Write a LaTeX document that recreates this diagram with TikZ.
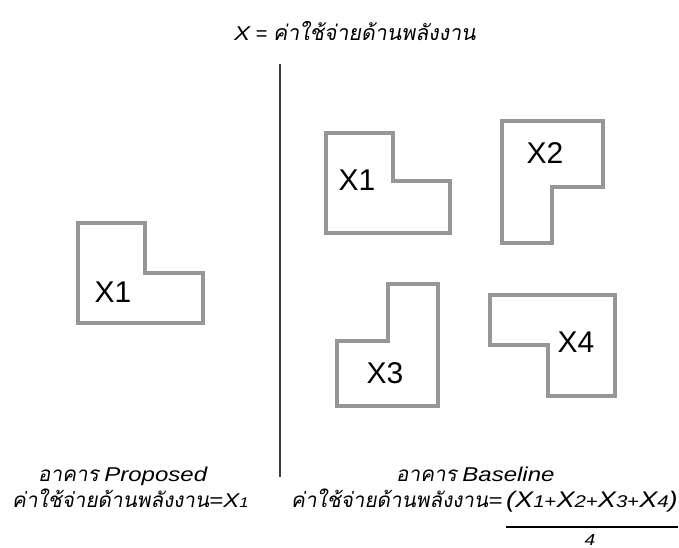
\documentclass[tikz,border=0pt]{standalone}
\usepackage{fontspec}
\setmainfont{Liberation Sans}
% wide oblique Latin for the captions, slanted Thai
\newfontfamily\capfont[FakeStretch=1.2]{Liberation Sans}
\newfontfamily\thaifont[Script=Thai,FakeSlant=0.18]{Loma}
\newcommand{\lat}[1]{{\capfont\itshape #1}}
\newcommand{\thtxt}[1]{{\thaifont\fontsize{20.7}{25}\selectfont #1}}
% variable with a small index, and a small plus sign, for the sums
\newcommand{\xs}[1]{\lat{X{\fontsize{14}{14}\selectfont #1}}}
\newcommand{\xb}[1]{\lat{X{\fontsize{17}{17}\selectfont #1}}}
\newcommand{\plb}{{\capfont\fontsize{17}{17}\selectfont +}}
\definecolor{wallgray}{RGB}{150,150,150}
\definecolor{divgray}{RGB}{60,60,60}
\begin{document}
\begin{tikzpicture}[x=1pt,y=-1pt,
  bldg/.style={draw=wallgray,line width=4pt,line join=miter},
  divider/.style={draw=divgray,line width=2pt},
  tag/.style={font=\fontsize{30}{36}\selectfont,inner sep=0pt},
  caption/.style={font=\fontsize{20}{24}\selectfont,inner sep=0pt,anchor=base west}]
\useasboundingbox (0,0) rectangle (679,547);

% heading
\node[caption] (head) at (234,40) {\lat{X} = {\thaifont\fontsize{21.3}{25}\selectfont ค่าใช้จ่ายด้านพลังงาน}};

% divider between the two cases
\coordinate (divtop) at (280,64);
\coordinate (divbot) at (280,477);
\draw[divider] (divtop) -- (divbot);

% proposed building
\draw[bldg] (78,223) -- (145,223) -- (145,273) -- (203,273) -- (203,323) -- (78,323) -- cycle;
\node[tag] (p1) at (113,292) {X1};

% baseline buildings
\draw[bldg] (326,133) -- (393,133) -- (393,181) -- (450,181) -- (450,233) -- (326,233) -- cycle;
\node[tag] (b1) at (357,180) {X1};
\draw[bldg] (502,121) -- (603,121) -- (603,187) -- (552,187) -- (552,243) -- (502,243) -- cycle;
\node[tag] (b2) at (545,153) {X2};
\draw[bldg] (388,284) -- (438,284) -- (438,406) -- (337,406) -- (337,341) -- (388,341) -- cycle;
\node[tag] (b3) at (385,373) {X3};
\draw[bldg] (490,295) -- (615,295) -- (615,396) -- (548,396) -- (548,345) -- (490,345) -- cycle;
\node[tag] (b4) at (576,342) {X4};

% captions
\node[caption] (pname) at (38,481) {\thtxt{อาคาร} \lat{Proposed}};
\node[caption] (pcost) at (12,507) {\thtxt{ค่าใช้จ่ายด้านพลังงาน}\lat{=}\xs{1}};
\node[caption] (bname) at (396,481) {\thtxt{อาคาร} \lat{Baseline}};
\node[caption] (bcost) at (291,507) {\thtxt{ค่าใช้จ่ายด้านพลังงาน}\lat{=}};
\node[caption,font=\fontsize{22.6}{27}\selectfont] (num) at (506,507)
  {\lat{(}\xb{1}\plb\xb{2}\plb\xb{3}\plb\xb{4}\lat{)}};
\coordinate (fl) at (num.west |- 0,527);
\coordinate (fr) at (num.east |- 0,527);
\draw[line width=1.5pt] (fl) -- (fr);
\node[caption,anchor=base,font=\fontsize{16}{18}\selectfont] (den) at (590,545) {\lat{4}};
\end{tikzpicture}
\end{document}
